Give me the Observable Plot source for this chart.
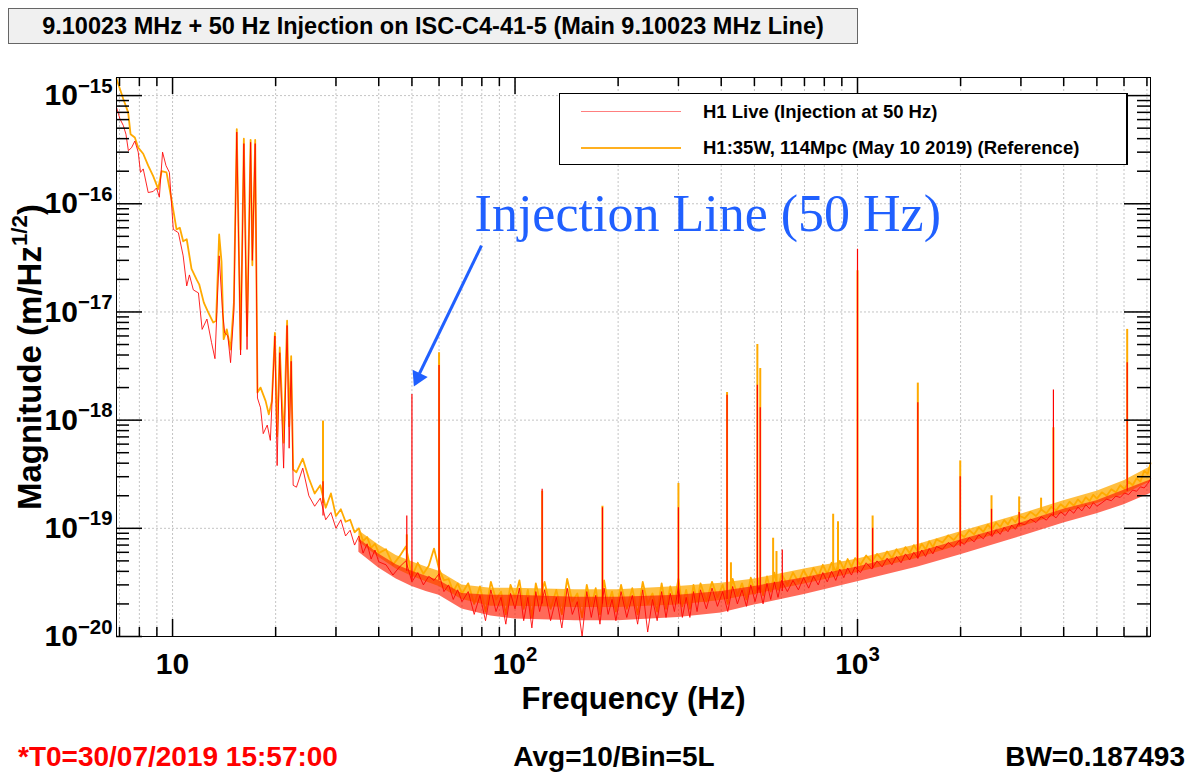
<!DOCTYPE html>
<html>
<head>
<meta charset="utf-8">
<script src="https://cdn.jsdelivr.net/npm/d3@7"></script>
<script src="https://cdn.jsdelivr.net/npm/@observablehq/plot@0.6"></script>
<style>
  html,body{margin:0;padding:0;background:#fff;}
  #page{position:relative;width:1201px;height:776px;overflow:hidden;font-family:"Liberation Sans",Arial,Helvetica,sans-serif;font-weight:bold;color:#000;}
  #titlebar{position:relative;height:50px;}
  #titlebox{position:absolute;left:8px;top:8px;width:850px;height:36px;box-sizing:border-box;background:#f0f0f0;border:1px solid #666;display:flex;align-items:center;justify-content:center;font-size:23.5px;white-space:nowrap;}
  #chart{position:relative;height:680px;}
  #chart svg{display:block;}
  #legend{position:absolute;left:559px;top:43px;width:569px;height:72px;box-sizing:border-box;background:#fff;border:1px solid #000;border-right-width:2px;}
  .lrow{position:absolute;left:0;height:20px;width:100%;}
  .lline{position:absolute;left:21px;width:100px;}
  .ltext{position:absolute;left:143px;top:0;line-height:20px;font-size:18.5px;white-space:nowrap;}
  #footer{position:relative;height:46px;}
  .foot{position:absolute;top:12px;line-height:30px;font-size:28px;white-space:nowrap;}
</style>
</head>
<body>
<div id="page">
  <div id="titlebar"><div id="titlebox"></div></div>
  <div id="chart">
    <div id="legend">
      <div class="lrow" style="top:8px"><div class="lline" style="top:9px;border-top:1px solid rgba(255,0,0,0.5)"></div><div class="ltext" id="leg1"></div></div>
      <div class="lrow" style="top:44px"><div class="lline" style="top:9px;border-top:2px solid #ffb020"></div><div class="ltext" id="leg2"></div></div>
    </div>
  </div>
  <div id="footer">
    <div class="foot" id="f1" style="left:18px;color:#ff0000"></div>
    <div class="foot" id="f2" style="left:614px;transform:translateX(-50%)"></div>
    <div class="foot" id="f3" style="right:16px"></div>
  </div>
</div>
<script>
// ---------- texts ----------
const titleText = "9.10023 MHz + 50 Hz Injection on ISC-C4-41-5 (Main 9.10023 MHz Line)";
const legendLabels = ["H1 Live (Injection at 50 Hz)", "H1:35W, 114Mpc (May 10 2019) (Reference)"];
const footerTexts = ["*T0=30/07/2019 15:57:00", "Avg=10/Bin=5L", "BW=0.187493"];
const xTitle = "Frequency (Hz)";
const yTitle = "Magnitude (m/Hz^{1/2})";

// ---------- axis ticks ----------
const xMajor = [10, 100, 1000];
const xTickLabels = ["10", "10^{2}", "10^{3}"];
const xGridTicks = [7,8,9,10,20,30,40,50,60,70,80,90,100,200,300,400,500,600,700,800,900,1000,2000,3000,4000,5000,6000,7000];
const yMajor = [1e-20, 1e-19, 1e-18, 1e-17, 1e-16, 1e-15];
const yTickLabels = ["10^{\u221220}", "10^{\u221219}", "10^{\u221218}", "10^{\u221217}", "10^{\u221216}", "10^{\u221215}"];

// ---------- low-frequency part (Hz, m/Hz^1/2) ----------
const refLowFreq = [6.86,7.18,7.42,7.54,7.76,7.94,8.21,8.49,8.78,9.08,9.29,9.60,9.93,10.27,10.5,10.74,11.0,11.36,11.75,11.96,12.34,12.71,13.14,13.4,13.68,13.9,14.1,14.4,14.77,15.1,15.4,15.8,16.15,16.5,16.9,17.1,17.43,17.7,18.07,18.7,19.1,19.5,19.9,20.2,20.56,21.1,21.6,21.9,22.2,22.5];
const refLowMag = [1.43e-15,9.3e-16,7.0e-16,4.4e-16,4.1e-16,3.3e-16,2.9e-16,2.25e-16,1.8e-16,1.37e-16,2.0e-16,1.95e-16,1.1e-16,5.8e-17,6.0e-17,4.5e-17,4.7e-17,2.5e-17,2.0e-17,1.8e-17,1.22e-17,9.9e-18,8.0e-18,8.3e-18,5.2e-17,2.9e-17,5.6e-18,6.9e-18,4.5e-18,1.2e-17,4.9e-16,4.5e-18,4.0e-16,6.0e-18,3.9e-16,2.7e-17,3.9e-16,1.8e-18,2.0e-18,1.5e-18,1.13e-18,1.5e-18,6.4e-18,7.1e-19,4.7e-18,6.2e-19,8.3e-18,8.8e-19,3.9e-18,3.5e-19];
const liveLowFreq = [6.86,7.02,7.18,7.31,7.43,7.59,7.76,7.94,8.06,8.21,8.49,8.78,8.98,9.15,9.35,9.57,9.79,9.93,10.05,10.4,10.74,11.0,11.2,11.5,11.9,12.2,12.6,13.0,13.3,13.68,14.0,14.2,14.5,14.77,15.1,15.4,15.8,16.15,16.5,16.9,17.1,17.43,17.7,18.07,18.4,18.9,19.3,19.9,20.2,20.56,21.1,21.6,21.9,22.2,22.5];
const liveLowMag = [7.8e-16,6.1e-16,5.3e-16,4.4e-16,3.1e-16,3.3e-16,3.8e-16,3.0e-16,1.95e-16,2.1e-16,1.27e-16,1.3e-16,1.4e-16,1.15e-16,3.0e-16,2.25e-16,1.95e-16,1.0e-16,5.8e-17,5.4e-17,3.3e-17,1.74e-17,2.2e-17,1.6e-17,1.5e-17,6.9e-18,8.6e-18,5.2e-18,3.7e-18,3.3e-17,9.9e-18,6.4e-18,6.0e-18,3.4e-18,1.0e-17,4.6e-16,4.0e-18,3.6e-16,4.5e-18,3.7e-16,3.0e-17,3.6e-16,1.6e-18,1.3e-18,7.5e-19,9.0e-19,6.5e-19,6.0e-18,3.8e-19,4.2e-18,3.6e-19,7.5e-18,5.5e-19,3.5e-18,2.5e-19];

// ---------- noise floor (Hz; magnitudes in units of 1e-20 m/Hz^1/2) ----------
const FLOOR_UNIT = 1e-20;
const floorFreq = [23,24,25,26,27,28,29,30,31,32,33,34,35,36,37,38,39,40,
  42,44,46,48,50,52,54,56,58,60,62,64,66,68,70,
  73,76,79,82,85,88,91,94,97,100,103,106,109,112,115,118,
  122,127,132,137,142,147,152,157,162,167,172,177,182,187,192,197,
  204,212,220,228,236,244,252,260,268,276,284,292,300,308,316,324,332,340,348,
  362,376,390,404,418,432,446,460,474,488,502,516,530,544,558,572,586,600,
  624,648,672,696,720,744,768,792,816,840,864,888,912,936,960,984,
  1020,1060,1100,1140,1180,1220,1260,1300,1340,1380,1420,1460,1500,1540,1580,1620,1660,1700,
  1770,1840,1910,1980,2050,2120,2190,2260,2330,2400,2470,2540,2610,2680,2750,2820,2890,2960,
  3080,3200,3320,3440,3560,3680,3800,3920,4040,4160,4280,4400,4520,4640,4760,4880,5000,
  5170,5340,5510,5680,5850,6020,6190,6360,6530,6700,6870,7040,7170];
const refFloor = [33,44,29,21,25,15.5,21,13,15,11.5,12,9.2,10,7.6,8.3,6.6,7.2,5.9,
  6.4,4.6,5.5,6.8,3.6,4.8,3.8,4.5,6.5,4.2,3.3,3.4,2.6,3.1,2.5,
  3.1,2.0,2.9,1.7,3.2,2.2,2.6,1.6,3.0,2.3,3.3,1.8,2.7,1.5,3.1,2.2,
  3.2,1.8,2.7,1.6,3.4,2.1,2.5,1.5,3.0,1.9,2.8,1.6,3.3,2.0,2.6,1.7,
  3.0,1.8,2.8,1.6,3.2,2.0,2.5,1.7,3.1,1.8,2.9,2.1,3.4,1.9,2.7,1.8,3.0,2.1,3.1,
  2.1,3.2,2.3,3.0,2.0,3.4,2.4,3.1,2.2,3.5,2.5,3.3,2.4,3.6,2.6,3.9,2.7,3.8,
  3.0,3.9,3.2,4.1,3.4,4.3,3.6,4.6,3.8,4.8,4.0,5.0,4.2,5.2,4.4,5.3,
  4.6,5.6,4.9,5.8,5.1,6.1,5.3,6.4,5.6,6.7,5.9,7.0,6.1,7.2,6.4,7.6,6.7,7.9,
  7.4,8.6,7.8,9.0,8.3,9.6,8.8,10.2,9.3,10.8,9.8,11.3,10.3,11.9,10.9,12.5,11.4,13.1,
  12.4,14.2,13.0,14.9,13.8,15.8,14.6,16.7,15.4,17.6,16.2,18.5,17.0,19.4,17.9,20.4,18.8,
  21.5,20.0,23.0,21.5,25.0,23.0,27.0,25.0,29.0,27.0,34.0,32.0,40.0];
const liveFloor = [24,36,20,16,19,12,14,10,12,8.5,9.6,7,8.5,5.9,7.2,5.2,6.3,4.9,
  4.6,3.7,4.4,5.0,3.2,3.9,3.0,3.6,3.3,3.8,2.6,3.0,2.2,2.7,2.1,
  2.6,1.6,2.4,1.4,2.7,1.7,2.3,1.3,2.5,1.8,2.8,1.4,2.3,1.2,2.6,1.7,
  2.7,1.4,2.3,1.2,2.8,1.6,2.1,1.0,2.6,1.5,2.4,1.3,2.8,1.6,2.2,1.4,
  2.6,1.5,2.4,1.3,2.7,1.1,2.2,1.4,2.6,1.5,2.5,1.7,2.9,1.5,2.3,1.5,2.6,1.7,2.7,
  1.8,2.8,1.9,2.6,1.7,2.9,2.0,2.7,1.9,3.0,2.1,2.9,2.0,3.1,2.2,3.2,2.3,3.3,
  2.6,3.3,2.7,3.5,2.8,3.6,3.0,3.9,3.2,4.0,3.3,4.2,3.5,4.3,3.7,4.4,
  3.9,4.8,4.2,5.0,4.4,5.3,4.6,5.5,4.8,5.8,5.1,6.0,5.3,6.3,5.5,6.5,5.8,6.8,
  6.4,7.4,6.7,7.7,7.1,8.2,7.5,8.7,8.0,9.2,8.4,9.7,8.8,10.2,9.3,10.7,9.8,11.2,
  10.8,12.2,11.3,12.8,11.9,13.5,12.5,14.2,13.1,14.9,13.8,15.7,14.5,16.5,15.2,17.3,16.0,
  17.2,18.6,18.0,19.8,19.3,21.2,20.5,22.6,22.0,24.2,23.6,26.0,28.5];

// ---------- dense noise-band cores (Hz; units of 1e-20) ----------
const envFreq     = [35, 40, 45, 50, 55, 60, 70, 85, 100, 150, 200, 300, 400, 500, 700, 1000, 1500, 2000, 3000, 4000, 5000, 6000, 7170];
const refEnvHigh  = [9.5, 7.0, 5.6, 4.9, 4.4, 4.0, 3.0, 2.8, 2.8, 2.7, 2.7, 2.9, 3.1, 3.4, 4.2, 5.2, 7.1, 9.3, 13.5, 18, 22, 27.5, 37];
const refEnvLow   = [7.5, 5.4, 4.2, 3.6, 3.2, 2.9, 2.2, 1.9, 1.9, 1.85, 1.85, 1.95, 2.15, 2.45, 3.05, 3.9, 5.3, 7.0, 10.3, 13.8, 17, 20.5, 27];
const liveEnvHigh = [8.0, 5.8, 4.6, 4.0, 3.6, 3.3, 2.5, 2.4, 2.4, 2.3, 2.3, 2.4, 2.6, 2.9, 3.5, 4.4, 6.0, 7.8, 11.2, 15, 18, 22.5, 28];
const liveEnvLow  = [6.0, 4.3, 3.4, 2.9, 2.6, 2.4, 1.8, 1.55, 1.45, 1.4, 1.4, 1.5, 1.65, 1.95, 2.45, 3.2, 4.4, 5.7, 8.4, 11.2, 13.6, 16.5, 21];

// ---------- narrow lines (spikes) ----------
const refSpikeFreq = [27.5,48.3,60,120,180,300,416,427,510,520,567,580,849,877,1000,1107,1500,1995,2462,2965,3436,3733,6130];
const refSpikeTop  = [9.8e-19,8.7e-20,4.2e-18,2.2e-19,1.6e-19,2.6e-19,1.8e-18,4.8e-20,5.0e-18,3.0e-18,8.1e-20,6.1e-20,1.35e-19,1.15e-19,2.4e-17,1.3e-19,2.2e-18,4.2e-19,2.0e-19,1.95e-19,1.9e-19,8.5e-19,6.9e-18];
const refSpikeBase = [1.7e-19,5e-20,3.5e-20,2.4e-20,2.2e-20,2.3e-20,2.5e-20,2.5e-20,2.8e-20,2.8e-20,3.0e-20,3.0e-20,4.0e-20,4.0e-20,4.5e-20,5e-20,6e-20,8e-20,1.0e-19,1.25e-19,1.45e-19,1.5e-19,2.6e-19];
const liveSpikeFreq = [27.5,48.3,50,60,120,180,300,416,510,520,603,1000,1107,1500,1995,2462,2965,3733,6130];
const liveSpikeTop  = [2.7e-19,1.3e-19,1.73e-18,3.2e-18,2.3e-19,1.55e-19,1.55e-19,1.7e-18,2.1e-18,1.3e-18,6.3e-20,3.8e-17,1.0e-19,1.45e-18,3.0e-19,1.5e-19,1.4e-19,1.9e-18,3.4e-18];
const liveSpikeBase = [1.3e-19,4e-20,3.3e-20,3.3e-20,2.0e-20,2.0e-20,2.0e-20,2.2e-20,2.5e-20,2.5e-20,2.6e-20,3.8e-20,4.2e-20,5.2e-20,6.8e-20,8.5e-20,1.05e-19,1.3e-19,2.2e-19];

// ---------- annotation ----------
const annotText = ["Injection Line (50 Hz)"];
const annotFreq = [76.2];
const annotMag = [8.0e-17];
const arrowStart = {f: 79.8, m: 4.1e-17};
const arrowEnd = {f: 52.6, m: 2.7e-18};
const arrowHead = {f: 52.1, m: 2.46e-18, angle: 205.7};

// ---------- build tables ----------
const refData = refLowFreq.map((f, i) => ({f, m: refLowMag[i]}))
  .concat(floorFreq.map((f, i) => ({f, m: refFloor[i] * FLOOR_UNIT})));
const liveData = liveLowFreq.map((f, i) => ({f, m: liveLowMag[i]}))
  .concat(floorFreq.map((f, i) => ({f, m: liveFloor[i] * FLOOR_UNIT})));
const refEnv = envFreq.map((f, i) => ({f, lo: refEnvLow[i] * FLOOR_UNIT, hi: refEnvHigh[i] * FLOOR_UNIT}));
const liveEnv = envFreq.map((f, i) => ({f, lo: liveEnvLow[i] * FLOOR_UNIT, hi: liveEnvHigh[i] * FLOOR_UNIT}));
const refSpikes = refSpikeFreq.map((f, i) => ({f, top: refSpikeTop[i], base: refSpikeBase[i]}));
const liveSpikes = liveSpikeFreq.map((f, i) => ({f, top: liveSpikeTop[i], base: liveSpikeBase[i]}));
const annot = annotText.map((t, i) => ({t, f: annotFreq[i], m: annotMag[i]}));

const xDomain = [6.86, 7170];
const yDomain = [1e-20, 1.47e-15];
const xMinor = xGridTicks.filter(v => !xMajor.includes(v));
const yMinor = d3.scaleLog().domain(yDomain).ticks().filter(v => !yMajor.some(M => Math.abs(v / M - 1) < 1e-6));
const xLab = new Map(xMajor.map((v, i) => [v, xTickLabels[i]]));
const yLab = new Map(yMajor.map((v, i) => [v, yTickLabels[i]]));

// layout
const W = 1201, H = 680, mL = 116, mR = 51, mT = 27, mB = 94;
const frameW = W - mL - mR, frameH = H - mT - mB;

const bold = {fontWeight: "bold", fill: "#000"};
const tickStyle = {stroke: "#000", strokeWidth: 1.5};

const svg = Plot.plot({
  width: W, height: H,
  marginLeft: mL, marginRight: mR, marginTop: mT, marginBottom: mB,
  x: {type: "log", domain: xDomain},
  y: {type: "log", domain: yDomain},
  style: {fontFamily: '"Liberation Sans", Arial, sans-serif', background: "transparent", overflow: "visible"},
  marks: [
    Plot.ruleX(xGridTicks, {stroke: "#c4c4c4", strokeDasharray: "2,2"}),
    Plot.ruleY(yMajor, {stroke: "#c4c4c4", strokeDasharray: "2,2"}),
    // reference (orange)
    Plot.areaY(refEnv, {x: "f", y1: "lo", y2: "hi", fill: "#ffaa00", fillOpacity: 0.75}),
    Plot.line(refData, {x: "f", y: "m", stroke: "#ffaa00", strokeWidth: 1.8}),
    Plot.ruleX(refSpikes, {x: "f", y1: "base", y2: "top", stroke: "#ffaa00", strokeWidth: 2}),
    // live (red)
    Plot.areaY(liveEnv, {x: "f", y1: "lo", y2: "hi", fill: "#ff1a00", fillOpacity: 0.65}),
    Plot.line(liveData, {x: "f", y: "m", stroke: "#ff0000", strokeWidth: 1, strokeOpacity: 0.85}),
    Plot.ruleX(liveSpikes, {x: "f", y1: "base", y2: "top", stroke: "#ff0000", strokeWidth: 1.2}),
    Plot.frame({stroke: "#000"}),
    // tick labels and titles
    Plot.axisX(xMajor, {anchor: "bottom", tickSize: 0, tickPadding: 16, tickFormat: d => xLab.get(d), fontSize: 30, label: null, ...bold}),
    Plot.axisY(yMajor, {anchor: "left", tickSize: 0, tickPadding: 4, tickFormat: d => yLab.get(d), fontSize: 30, label: null, ...bold}),
    Plot.text([xTitle], {text: d => d, frameAnchor: "bottom", dy: 72, fontSize: 31, textAnchor: "middle", ...bold}),
    Plot.text([yTitle], {text: d => d, frameAnchor: "left", dx: -86, rotate: -90, fontSize: 33, textAnchor: "middle", ...bold}),
    // annotation
    Plot.link([arrowStart], {x1: d => d.f, y1: d => d.m, x2: () => arrowEnd.f, y2: () => arrowEnd.m, stroke: "#2060ff", strokeWidth: 3}),
    Plot.dot([arrowHead], {x: "f", y: "m", rotate: "angle", symbol: "triangle2", r: 8, fill: "#2060ff", stroke: "none"}),
    Plot.text(annot, {x: "f", y: "m", text: "t", textAnchor: "start", fontSize: 52, fontWeight: "normal", fontFamily: '"Liberation Serif", "Times New Roman", serif', fill: "#2060ff"}),
    // ROOT-style inward ticks on all four sides (drawn last)
    Plot.ruleX(xMajor, {insetTop: frameH - 17, ...tickStyle}),
    Plot.ruleX(xMinor, {insetTop: frameH - 9, ...tickStyle}),
    Plot.ruleX(xMajor, {insetBottom: frameH - 17, ...tickStyle}),
    Plot.ruleX(xMinor, {insetBottom: frameH - 9, ...tickStyle}),
    Plot.ruleY(yMajor, {insetRight: frameW - 26, ...tickStyle}),
    Plot.ruleY(yMinor, {insetRight: frameW - 13, ...tickStyle}),
    Plot.ruleY(yMajor, {insetLeft: frameW - 26, ...tickStyle}),
    Plot.ruleY(yMinor, {insetLeft: frameW - 13, ...tickStyle})
  ]
});

// superscript handling: "base^{sup}rest"
const NS = "http://www.w3.org/2000/svg";
svg.querySelectorAll("text").forEach(t => {
  const s = t.textContent;
  const m = s.match(/^(.*?)\^\{([^}]*)\}(.*)$/);
  if (!m) return;
  const holder = t.closest("[font-size]");
  const fs = parseFloat((t.getAttribute("font-size")) || (holder && holder.getAttribute("font-size")) || 30);
  const rise = fs * 0.42;
  while (t.firstChild) t.removeChild(t.firstChild);
  t.appendChild(document.createTextNode(m[1]));
  const sup = document.createElementNS(NS, "tspan");
  sup.setAttribute("font-size", fs * 0.68);
  sup.setAttribute("dy", -rise);
  sup.textContent = m[2];
  t.appendChild(sup);
  if (m[3]) {
    const r = document.createElementNS(NS, "tspan");
    r.setAttribute("dy", rise);
    r.textContent = m[3];
    t.appendChild(r);
  }
});

document.getElementById("chart").insertBefore(svg, document.getElementById("legend"));
document.getElementById("titlebox").textContent = titleText;
document.getElementById("leg1").textContent = legendLabels[0];
document.getElementById("leg2").textContent = legendLabels[1];
document.getElementById("f1").textContent = footerTexts[0];
document.getElementById("f2").textContent = footerTexts[1];
document.getElementById("f3").textContent = footerTexts[2];
</script>
</body>
</html>
